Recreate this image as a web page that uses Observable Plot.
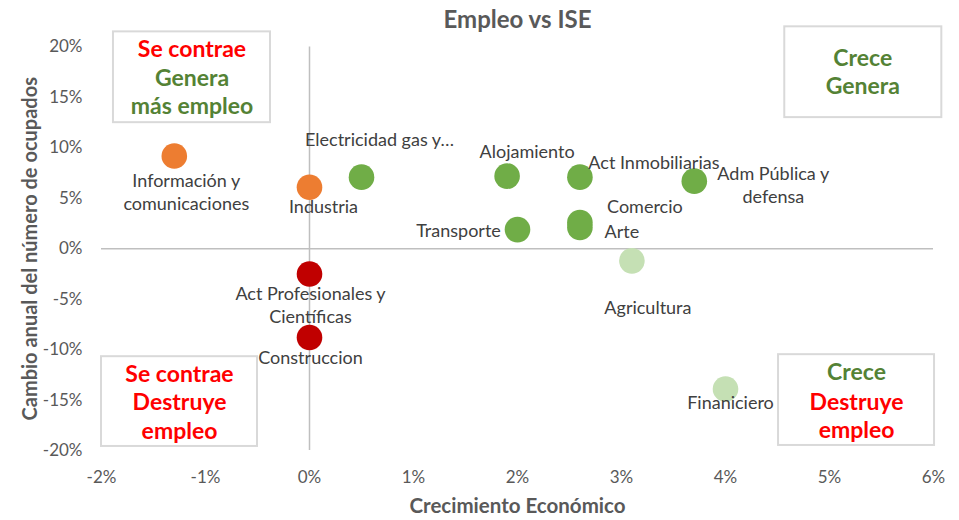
<!DOCTYPE html>
<html>
<head>
<meta charset="utf-8">
<script src="https://cdn.jsdelivr.net/npm/d3@7"></script>
<script src="https://cdn.jsdelivr.net/npm/@observablehq/plot@0.6"></script>
<style>
  html, body { margin: 0; padding: 0; background: #fff; }
  #chart svg { display: block; }
</style>
</head>
<body>
<div id="chart"></div>
<script>
// ---- data ----
const sectores = ["Información y\ncomunicaciones", "Industria", "Electricidad gas y…", "Alojamiento", "Act Inmobiliarias", "Adm Pública y\ndefensa", "Transporte", "Comercio", "Arte", "Agricultura", "Finaniciero", "Act Profesionales y\nCientíficas", "Construccion"];
const crecimiento = [-1.3, 0, 0.5, 1.9, 2.6, 3.7, 2.0, 2.6, 2.6, 3.1, 4.0, 0, 0];
const empleo = [9.2, 6.1, 7.1, 7.2, 7.1, 6.7, 1.9, 2.6, 2.1, -1.2, -13.9, -2.5, -8.8];
const grupo = ["contrae-genera", "contrae-genera", "crece-genera", "crece-genera", "crece-genera", "crece-genera", "crece-genera", "crece-genera", "crece-genera", "crece-destruye", "crece-destruye", "contrae-destruye", "contrae-destruye"];

const grupos = ["contrae-genera", "crece-genera", "crece-destruye", "contrae-destruye"];
const coloresGrupo = ["#ED7D31", "#70AD47", "#C5E0B4", "#C00000"];

// label offsets (px) relative to each point
const labelDx = [12, 14, 18, 20, 74, 79, -59, 65, 42, 16, 5, 1, 1];
const labelDy = [35, 18, -39, -26, -16, 3, 0, -17, 3, 46, 13, 30, 19];

const xTicks = [-2, -1, 0, 1, 2, 3, 4, 5, 6];
const yTicks = [-20, -15, -10, -5, 0, 5, 10, 15, 20];

// quadrant boxes (data units)
const cajaX1 = [-1.885, 4.57, -2.0, 4.51];
const cajaX2 = [-0.375, 6.08, -0.5, 6.01];
const cajaY1 = [21.5, 22.0, -10.7, -10.5];
const cajaY2 = [12.5, 13.0, -19.6, -19.5];

// quadrant box texts
const cajaTexto = ["Se contrae", "Genera", "más empleo", "Crece", "Genera", "Se contrae", "Destruye", "empleo", "Crece", "Destruye", "empleo"];
const cajaTextoX = [-1.13, -1.13, -1.13, 5.32, 5.32, -1.25, -1.25, -1.25, 5.26, 5.26, 5.26];
const cajaTextoY = [19.7, 16.85, 14.1, 18.8, 16.06, -12.44, -15.3, -18.1, -12.28, -15.24, -18.03];
const cajaTextoTipo = ["rojo", "verde", "verde", "verde", "verde", "rojo", "rojo", "rojo", "verde", "rojo", "rojo"];

const titulo = "Empleo vs ISE";
const tituloX = "Crecimiento Económico";
const tituloY = "Cambio anual del número de ocupados";

// ---- build tables ----
const puntos = sectores.map((s, i) => ({sector: s, x: crecimiento[i], y: empleo[i], grupo: grupo[i], dx: labelDx[i], dy: labelDy[i]}));
const cajas = cajaX1.map((v, i) => ({x1: v, x2: cajaX2[i], y1: cajaY1[i], y2: cajaY2[i]}));
const cajaLineas = cajaTexto.map((t, i) => ({t, x: cajaTextoX[i], y: cajaTextoY[i], c: cajaTextoTipo[i] === "rojo" ? "#FF0000" : "#548235"}));

const font = "Lato, 'Liberation Sans', sans-serif";

const marks = [
  Plot.ruleX([0], {y1: -20, y2: 20, stroke: "#BFBFBF", strokeWidth: 1.5}),
  Plot.ruleY([0], {x1: -2, x2: 6, stroke: "#BFBFBF", strokeWidth: 1.5}),
  Plot.rect(cajas, {x1: "x1", x2: "x2", y1: "y1", y2: "y2", fill: "white", stroke: "#D9D9D9", strokeWidth: 2}),
  ...cajaLineas.map(d => Plot.text([d], {x: "x", y: "y", text: "t", fill: d.c, fontSize: 23, fontWeight: "bold"})),
  Plot.dot(puntos, {x: "x", y: "y", r: 12.8, fill: "grupo", stroke: null}),
  ...puntos.map(d => Plot.text([d], {x: "x", y: "y", text: "sector", dx: d.dx, dy: d.dy, fill: "#404040", fontSize: 18, lineHeight: 1.3})),
  Plot.axisX({ticks: xTicks, tickSize: 0, tickPadding: 20, tickFormat: d => d + "%", fontSize: 17, fill: "#595959", label: null}),
  Plot.axisY({ticks: yTicks, tickSize: 0, tickPadding: 19, tickFormat: d => d + "%", fontSize: 17, fill: "#595959", label: null}),
  Plot.text([titulo], {frameAnchor: "top", dy: -36, fontSize: 24, fontWeight: "bold", fill: "#595959"}),
  Plot.text([tituloX], {frameAnchor: "bottom", dy: 62, fontSize: 20.5, fontWeight: "bold", fill: "#595959"}),
  Plot.text([tituloY], {frameAnchor: "left", textAnchor: "middle", dx: -71, rotate: -90, fontSize: 20, fontWeight: "bold", fill: "#595959"})
];

const chart = Plot.plot({
  width: 959,
  height: 520,
  marginLeft: 101,
  marginRight: 26,
  marginTop: 46.5,
  marginBottom: 70,
  style: {fontFamily: font, background: "white", overflow: "visible"},
  x: {domain: [-2, 6]},
  y: {domain: [-20, 20]},
  color: {domain: grupos, range: coloresGrupo},
  marks
});
document.getElementById("chart").appendChild(chart);
</script>
</body>
</html>
